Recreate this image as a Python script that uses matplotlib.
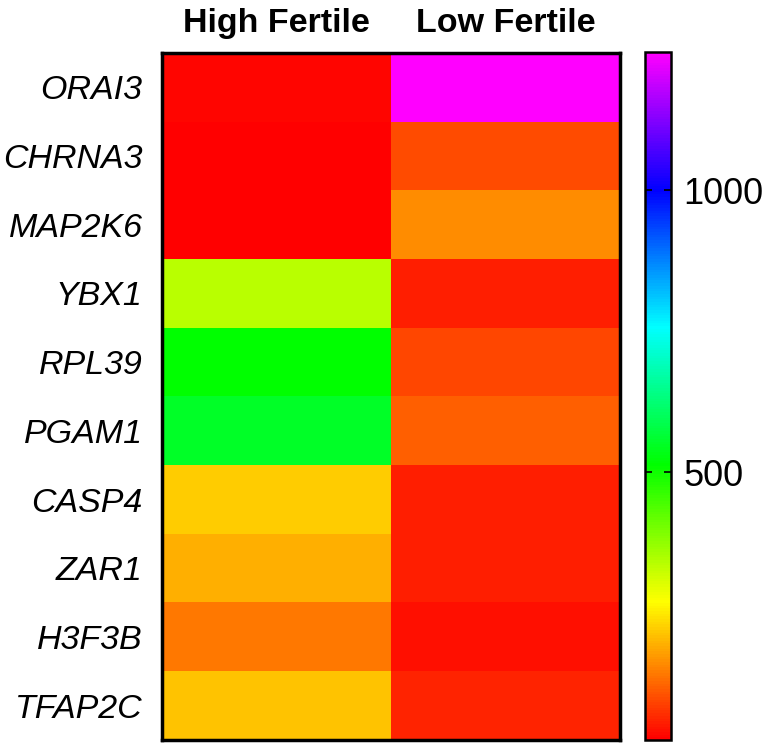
import numpy as np
import matplotlib
matplotlib.use("Agg")
import matplotlib.pyplot as plt
from matplotlib.colors import LinearSegmentedColormap

plt.rcParams["font.family"] = ["Liberation Sans", "DejaVu Sans"]

genes = ["ORAI3", "CHRNA3", "MAP2K6", "YBX1", "RPL39",
         "PGAM1", "CASP4", "ZAR1", "H3F3B", "TFAP2C"]
groups = ["High Fertile", "Low Fertile"]

high_fertile = [33, 25, 25, 336, 513, 551, 224, 193, 140, 214]
low_fertile = [1245, 101, 159, 54, 92, 116, 54, 54, 42, 63]

cbar_ticks = [500, 1000]


def main():
    data = np.column_stack([high_fertile, low_fertile])

    # red -> yellow -> green -> cyan -> blue -> magenta (linear hue)
    cmap = LinearSegmentedColormap.from_list(
        "rainbow_prism",
        ["#ff0000", "#ffff00", "#00ff00", "#00ffff", "#0000ff", "#ff00ff"])

    fig = plt.figure(figsize=(7.65, 7.44), dpi=100)
    ax = fig.add_axes([162 / 765, 4 / 744, 458 / 765, 687 / 744])
    cax = fig.add_axes([645 / 765, 4 / 744, 26 / 765, 688 / 744])

    im = ax.imshow(data, cmap=cmap, aspect="auto", interpolation="nearest",
                   vmin=data.min(), vmax=data.max())

    ax.set_xticks(range(len(groups)))
    ax.set_xticklabels(groups, fontsize=24.5, fontweight="bold")
    ax.xaxis.tick_top()
    ax.set_yticks(range(len(genes)))
    ax.set_yticklabels(genes, fontsize=24.5, fontstyle="italic")
    ax.tick_params(axis="both", length=0)
    ax.tick_params(axis="x", pad=10)
    ax.tick_params(axis="y", pad=14)
    for s in ax.spines.values():
        s.set_linewidth(2.5)

    cb = fig.colorbar(im, cax=cax, ticks=cbar_ticks)
    cb.outline.set_linewidth(1.8)
    cax.tick_params(labelsize=26, direction="in", length=5, width=1.2,
                    left=True, right=True, pad=9)

    fig.savefig("out.png", dpi=100)


if __name__ == "__main__":
    main()
